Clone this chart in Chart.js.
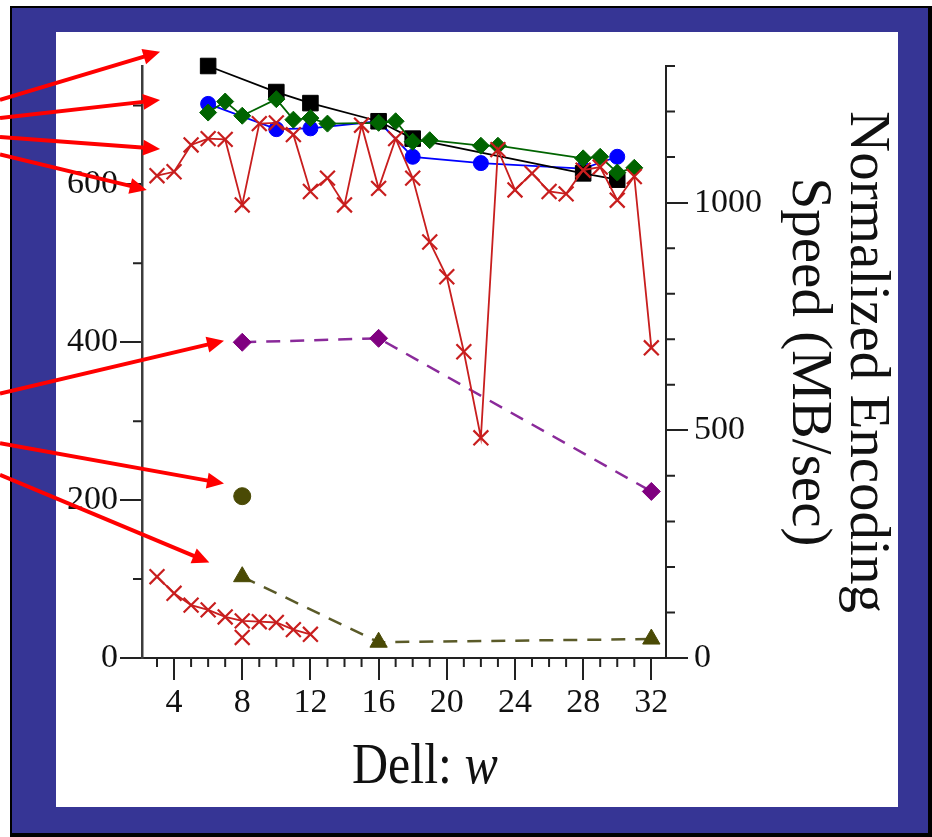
<!DOCTYPE html>
<html>
<head>
<meta charset="utf-8">
<title>Dell: w</title>
<script src="https://cdn.jsdelivr.net/npm/chart.js@4.4.1/dist/chart.umd.min.js"></script>
<style>
    html, body { margin: 0; padding: 0; background: #fff; }
    #stage { position: relative; width: 932px; height: 837px; overflow: hidden; }
    #frame {
        position: absolute; left: 10px; top: 6px; right: 0; bottom: 0;
        box-sizing: border-box; background: #363595;
        border-style: solid; border-color: #000; border-width: 2px 4px 4px 2px;
    }
    #panel { position: absolute; left: 56px; top: 32px; width: 842px; height: 775px; background: #fff; }
    #chart { position: absolute; left: 0; top: 0; }
    #xtitle {
        position: absolute; left: 352px; top: 741px;
        font: 50px 'Liberation Serif', 'Times New Roman', serif; line-height: 50px;
        color: #111; white-space: nowrap;
        transform: scaleY(1.14); transform-origin: 0 42px;
    }
</style>
</head>
<body>
<div id="stage">
    <div id="frame"></div>
    <div id="panel"></div>
    <canvas id="chart" width="932" height="837"></canvas>
    <div id="xtitle">Dell: <i>w</i></div>
</div>
<script>
// --- data (left axis units) ---
const wBlack = [6, 10, 12, 16, 18, 28, 30];
const black = [750, 717, 703, 680, 658, 614, 606];

const wBlue = [6, 10, 12, 16, 18, 22, 28, 30];
const blue = [702, 670, 671, 680, 635, 627, 620, 635];

const wGreen = [6, 7, 8, 10, 11, 12, 13, 16, 17, 18, 19, 22, 23, 28, 29, 30, 31];
const green = [691, 705, 687, 708, 682, 684, 677, 678, 680, 654, 656, 649, 649, 633, 635, 615, 621];

const wRedTop = [3, 4, 5, 6, 7, 8, 9, 10, 11, 12, 13, 14, 15, 16, 17, 18, 19, 20, 21, 22, 23, 24, 25, 26, 27, 28, 29, 30, 31, 32];
const redTop = [611, 616, 650, 658, 657, 574, 677, 678, 663, 591, 608, 574, 675, 595, 658, 608, 527, 483, 388, 279, 644, 593, 614, 591, 588, 618, 622, 580, 610, 393];

const wRedLow = [3, 4, 5, 6, 7, 8, 9, 10, 11, 12];
const redLow = [103, 82, 67, 61, 52, 47, 46, 45, 36, 30];
const wRedExtra = [8];
const redExtra = [26];

const wPurple = [8, 16, 32];
const purple = [400, 405, 211];

const wOliveCircle = [8];
const oliveCircle = [205];

const wOliveTri = [8, 16, 32];
const oliveTri = [103, 20, 24];

// annotation arrows, in (w, left-axis) coordinates: tail -> tip
const arrowTails = [[-6.21, 707], [-6.21, 684], [-6.21, 660], [-6.21, 638], [-6.21, 335], [-6.21, 272], [-6.21, 232]];
const arrowTips = [[3.18, 768], [3.18, 707], [3.18, 645], [2.40, 593], [6.93, 402], [6.93, 221], [6.07, 121]];

const serif = "'Liberation Serif', 'Times New Roman', serif";
const axisColor = '#222';

function pts(xs, ys) {
    return xs.map((x, i) => ({x: x, y: ys[i]}));
}

function series(xs, ys, color, style, radius, extra) {
    return Object.assign({
        data: pts(xs, ys),
        borderColor: color,
        backgroundColor: color,
        pointBackgroundColor: color,
        pointBorderColor: color,
        pointStyle: style,
        pointRadius: radius,
        pointBorderWidth: 1,
        borderWidth: 1.8,
        tension: 0,
        fill: false,
        clip: false,
        yAxisID: 'y'
    }, extra || {});
}

// minor ticks and the red arrows, drawn through the chart scales
const extras = {
    id: 'extras',
    afterDraw(chart) {
        const ctx = chart.ctx;
        const sx = chart.scales.x, sy = chart.scales.y, sy2 = chart.scales.y2;
        const minor = 9;
        ctx.save();
        ctx.lineWidth = 2;
        ctx.strokeStyle = axisColor;
        ctx.beginPath();
        for (let v = Math.ceil(sx.min); v <= sx.max; v++) {
            if (v % 4 === 0) continue;
            const px = sx.getPixelForValue(v);
            ctx.moveTo(px, sx.top); ctx.lineTo(px, sx.top + minor);
        }
        for (let v = 100; v <= sy.max; v += 200) {
            const py = sy.getPixelForValue(v);
            ctx.moveTo(sy.right, py); ctx.lineTo(sy.right - minor, py);
        }
        for (let v = 100; v <= sy2.max; v += 100) {
            if (v % 500 === 0) continue;
            const py = sy2.getPixelForValue(v);
            ctx.moveTo(sy2.left, py); ctx.lineTo(sy2.left + minor, py);
        }
        ctx.stroke();

        ctx.strokeStyle = '#ff0000';
        ctx.fillStyle = '#ff0000';
        ctx.lineWidth = 4;
        const headLen = 17, headW = 8;
        arrowTips.forEach((tip, i) => {
            const x1 = sx.getPixelForValue(arrowTails[i][0]);
            const y1 = sy.getPixelForValue(arrowTails[i][1]);
            const x2 = sx.getPixelForValue(tip[0]);
            const y2 = sy.getPixelForValue(tip[1]);
            const a = Math.atan2(y2 - y1, x2 - x1);
            const bx = x2 - headLen * Math.cos(a);
            const by = y2 - headLen * Math.sin(a);
            ctx.beginPath();
            ctx.moveTo(x1, y1);
            ctx.lineTo(bx + 2 * Math.cos(a), by + 2 * Math.sin(a));
            ctx.stroke();
            ctx.beginPath();
            ctx.moveTo(x2, y2);
            ctx.lineTo(bx - headW * Math.sin(a), by + headW * Math.cos(a));
            ctx.lineTo(bx + headW * Math.sin(a), by - headW * Math.cos(a));
            ctx.closePath();
            ctx.fill();
        });
        ctx.restore();
    }
};

const tickFont = {family: serif, size: 34, lineHeight: 1.2};

const chart = new Chart(document.getElementById('chart'), {
    type: 'line',
    data: {
        datasets: [
            series(wRedTop, redTop, '#c81e1e', 'crossRot', 10.5, {pointBorderWidth: 2.2}),
            series(wGreen, green, '#006400', 'rectRot', 8.5),
            series(wBlack, black, '#000000', 'rect', 11),
            series(wBlue, blue, '#0000ff', 'circle', 7.5),
            series(wRedLow, redLow, '#c81e1e', 'crossRot', 10.5, {pointBorderWidth: 2.2}),
            series(wRedExtra, redExtra, '#c81e1e', 'crossRot', 10.5, {pointBorderWidth: 2.2, showLine: false}),
            series(wPurple, purple, '#800080', 'rectRot', 9, {borderColor: '#8a2a9a', borderWidth: 2.5, borderDash: [14, 10]}),
            series(wOliveCircle, oliveCircle, '#4a4a05', 'circle', 8.5, {showLine: false}),
            series(wOliveTri, oliveTri, '#4a4a05', 'triangle', 10, {borderColor: '#5a5a28', borderWidth: 2.5, borderDash: [14, 10]})
        ]
    },
    options: {
        responsive: false,
        animation: false,
        devicePixelRatio: 1,
        layout: {padding: {left: 60, right: 37, top: 66, bottom: 119}},
        plugins: {legend: {display: false}, tooltip: {enabled: false}},
        scales: {
            x: {
                type: 'linear',
                position: 'bottom',
                min: 2.12,
                max: 32.86,
                afterFit: (s) => { s.height = 60; },
                border: {color: axisColor, width: 2},
                grid: {
                    drawOnChartArea: false, tickLength: 22, lineWidth: 2,
                    tickColor: (c) => (c.tick && c.tick.value % 4 === 0) ? axisColor : 'rgba(0,0,0,0)'
                },
                ticks: {
                    stepSize: 1, includeBounds: false, autoSkip: false, maxRotation: 0, padding: 3,
                    color: '#111', font: tickFont,
                    callback: (v) => (v % 4 === 0 ? v : '')
                }
            },
            y: {
                type: 'linear',
                position: 'left',
                min: 0,
                max: 750,
                afterFit: (s) => { s.width = 82; },
                border: {color: '#3c3c3c', width: 2.5},
                grid: {
                    drawOnChartArea: false, tickLength: 22, lineWidth: 2,
                    tickColor: (c) => (c.tick && c.tick.value % 200 === 0) ? axisColor : 'rgba(0,0,0,0)'
                },
                ticks: {
                    stepSize: 100, includeBounds: false, autoSkip: false, padding: 2,
                    color: '#111', font: tickFont,
                    callback: (v) => (v % 200 === 0 ? v : '')
                }
            },
            y2: {
                type: 'linear',
                position: 'right',
                min: 0,
                max: 1300,
                afterFit: (s) => { s.width = 229; },
                border: {color: axisColor, width: 2},
                grid: {
                    drawOnChartArea: false, tickLength: 22, lineWidth: 2,
                    tickColor: (c) => (c.tick && c.tick.value % 500 === 0) ? axisColor : 'rgba(0,0,0,0)'
                },
                ticks: {
                    stepSize: 100, includeBounds: false, autoSkip: false, padding: 6,
                    color: '#111', font: tickFont,
                    callback: (v) => (v % 500 === 0 ? v : '')
                },
                title: {
                    display: true,
                    text: ['Normalized Encoding', 'Speed (MB/sec)'],
                    color: '#111',
                    padding: 0,
                    font: {family: serif, size: 57, lineHeight: 1.02}
                }
            }
        }
    },
    plugins: [extras]
});
</script>
</body>
</html>
